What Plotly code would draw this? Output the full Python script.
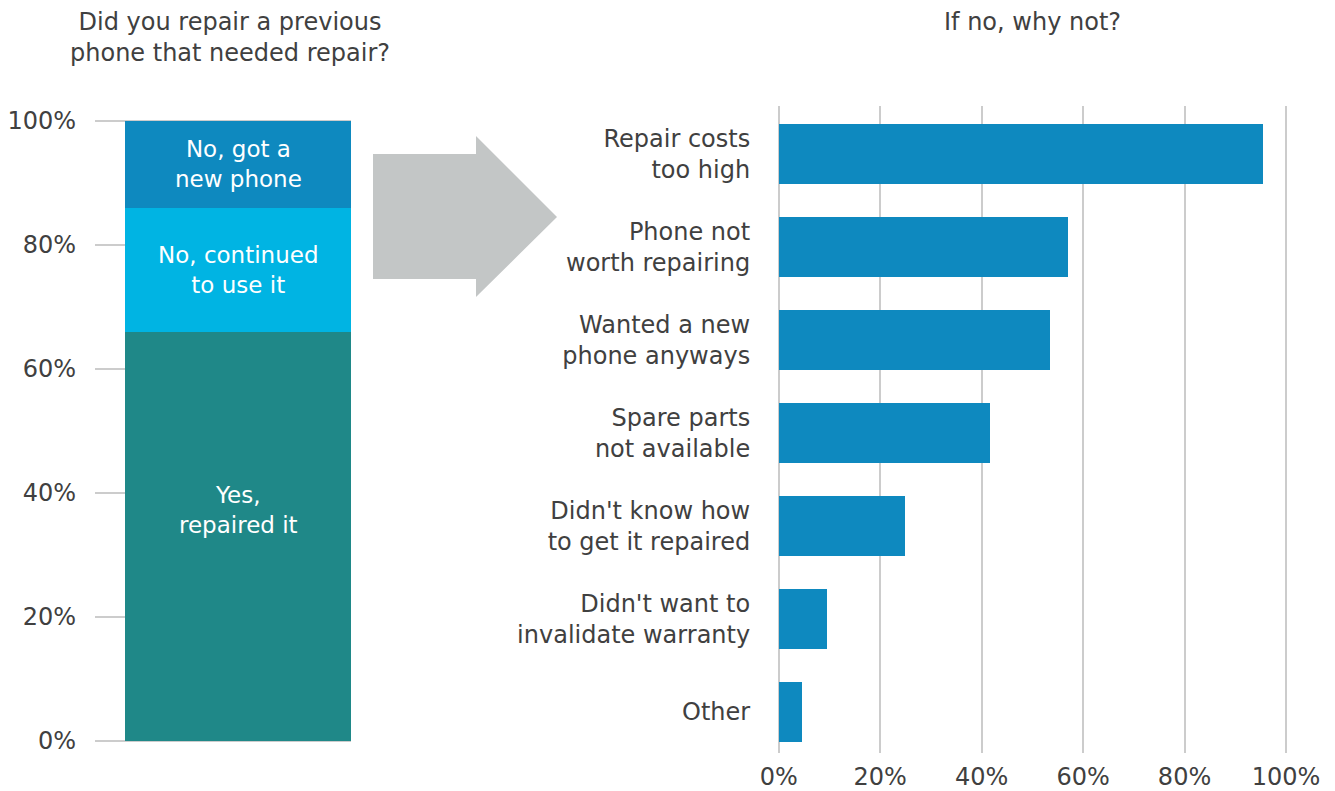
import plotly.graph_objects as go

# Left panel: what happened to the previous phone that needed repair (% of respondents)
outcome_labels = ["Yes,<br>repaired it", "No, continued<br>to use it", "No, got a<br>new phone"]
outcome_values = [66, 20, 14]
outcome_colors = ["#1F8888", "#00B4E3", "#0E89BF"]

# Right panel: reasons for not repairing (% of those who did not repair)
reason_labels = [
    "Repair costs<br>too high",
    "Phone not<br>worth repairing",
    "Wanted a new<br>phone anyways",
    "Spare parts<br>not available",
    "Didn't know how<br>to get it repaired",
    "Didn't want to<br>invalidate warranty",
    "Other",
]
reason_values = [95.5, 57.1, 53.5, 41.7, 24.9, 9.5, 4.5]

tick_vals = [0, 20, 40, 60, 80, 100]
tick_text = ["0%", "20%", "40%", "60%", "80%", "100%"]

W, H = 1335, 791
FONT = "DejaVu Sans"
TEXT = "#404040"
GRID = "#CCCCCC"
FS = 24
PAD = 0.3  # small range padding so the gridlines at 0% and 100% are drawn


def px(x):
    return x / W


def py(y):
    return 1 - y / H


fig = go.Figure()

# stacked single column
for lab, val, col in zip(outcome_labels, outcome_values, outcome_colors):
    fig.add_trace(go.Bar(
        x=[0], y=[val], width=1, marker=dict(color=col, line=dict(width=0)),
        name=lab, xaxis="x", yaxis="y", hoverinfo="skip",
    ))

# labels inside the stacked segments
label_y = []
base = 0
for v in outcome_values:
    label_y.append(base + v / 2)
    base += v
label_y[0] = outcome_values[0] * 0.565  # the bottom label sits a little above centre
for lab, yv in zip(outcome_labels, label_y):
    fig.add_annotation(x=0, y=yv, xref="x", yref="y", text=lab, showarrow=False,
                       font=dict(family=FONT, size=FS - 1, color="white"), align="center")

# horizontal bars of reasons
fig.add_trace(go.Bar(
    x=reason_values, y=list(range(len(reason_labels))), orientation="h", width=0.645,
    marker=dict(color="#0E89BF", line=dict(width=0)), xaxis="x2", yaxis="y2",
    hoverinfo="skip",
))

# grey arrow between the panels
pts = [(373, 154), (476, 154), (476, 136), (557, 217), (476, 297), (476, 279), (373, 279)]
path = "M " + " L ".join(f"{px(a):.5f},{py(b):.5f}" for a, b in pts) + " Z"
fig.add_shape(type="path", path=path, xref="paper", yref="paper",
              fillcolor="#C3C6C6", line=dict(width=0), layer="below")

# panel titles
fig.add_annotation(x=px(230), y=py(38), xref="paper", yref="paper",
                   text="Did you repair a previous<br>phone that needed repair?",
                   showarrow=False, font=dict(family=FONT, size=FS, color=TEXT),
                   align="center", xanchor="center", yanchor="middle")
fig.add_annotation(x=px(1032), y=py(22), xref="paper", yref="paper",
                   text="If no, why not?", showarrow=False,
                   font=dict(family=FONT, size=FS, color=TEXT),
                   xanchor="center", yanchor="middle")

# pixel scales of the two percentage axes
left_ppu = (741 - 121) / 100
right_ppu = (1286 - 778.7) / 100

axis_font = dict(family=FONT, size=FS, color=TEXT)
fig.update_layout(
    width=W, height=H,
    margin=dict(l=0, r=0, t=0, b=0, autoexpand=False),
    paper_bgcolor="white", plot_bgcolor="white",
    barmode="stack", showlegend=False,
    font=dict(family=FONT, size=FS, color=TEXT),
    xaxis=dict(domain=[px(95), px(351)], range=[-0.633, 0.5], visible=False,
               fixedrange=True, automargin=False),
    yaxis=dict(domain=[py(741 + PAD * left_ppu), py(121 - PAD * left_ppu)],
               range=[-PAD, 100 + PAD], tickvals=tick_vals,
               ticktext=tick_text, showgrid=True, gridcolor=GRID, gridwidth=1.5,
               zeroline=False, showline=False, ticks="", ticklabelstandoff=18,
               tickfont=axis_font, anchor="x", automargin=False),
    xaxis2=dict(domain=[px(778.7 - PAD * right_ppu), px(1286 + PAD * right_ppu)],
                range=[-PAD, 100 + PAD], tickvals=tick_vals,
                ticktext=tick_text, showgrid=True, gridcolor=GRID, gridwidth=1.5,
                zeroline=False, showline=False, ticks="", ticklabelstandoff=7,
                tickfont=axis_font, anchor="y2", automargin=False),
    yaxis2=dict(domain=[py(753), py(106)], range=[6.44, -0.516],
                tickvals=list(range(len(reason_labels))), ticktext=reason_labels,
                showgrid=False, zeroline=False, showline=False, ticks="",
                ticklabelstandoff=26, tickfont=axis_font, anchor="x2",
                automargin=False),
)

fig.write_html("out.html")
